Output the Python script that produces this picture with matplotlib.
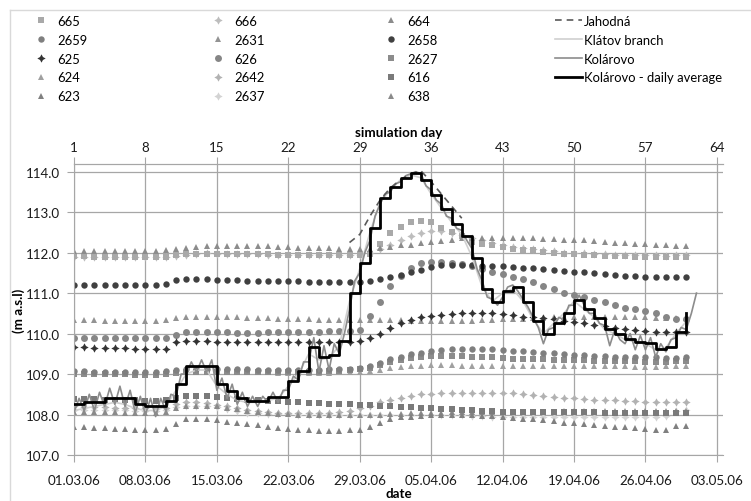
import numpy as np
import matplotlib
matplotlib.use('Agg')
import matplotlib.pyplot as plt
from matplotlib.lines import Line2D

plt.rcParams['font.family'] = ['Lato', 'DejaVu Sans']

## data: one value per day, day index 0 = 01.03.06 (simulation day 1)
s665 = [111.92,111.91,111.9,111.9,111.9,111.9,111.9,111.9,111.89,111.88, 111.93,111.96,111.97,111.97,111.97,111.97,111.97,111.97,111.97,111.96,
        111.95,111.94,111.93,111.93,111.93,111.93,111.93,111.93,111.94,111.96, 112.21,112.48,112.63,112.75,112.78,112.75,112.62,112.52,112.42,112.27,
        112.22,112.18,112.13,112.09,112.07,112.07,112.02,111.99,111.97,111.96, 111.95,111.94,111.92,111.92,111.91,111.9,111.9,111.88,111.88,111.9, 111.9]
s666 = [111.9,111.9,111.89,111.89,111.9,111.9,111.89,111.89,111.9,111.88, 111.91,111.95,111.97,111.98,111.97,111.96,111.96,111.96,111.96,111.95,
        111.95,111.94,111.94,111.93,111.93,111.93,111.93,111.93,111.94,111.98, 112.1,112.2,112.31,112.4,112.48,112.53,112.53,112.48,112.44,112.37,
        112.3,112.25,112.2,112.15,112.12,112.1,112.06,112.03,112.0,111.99, 111.98,111.97,111.96,111.95,111.94,111.94,111.93,111.93,111.92,111.93, 111.93]
s664 = [112.05,112.05,112.04,112.04,112.05,112.05,112.05,112.05,112.05,112.07, 112.1,112.12,112.14,112.16,112.17,112.17,112.17,112.17,112.16,112.16,
        112.15,112.13,112.12,112.12,112.11,112.11,112.1,112.1,112.1,112.1, 112.12,112.15,112.18,112.2,112.23,112.26,112.29,112.32,112.35,112.37,
        112.37,112.37,112.37,112.37,112.36,112.35,112.33,112.33,112.32,112.31, 112.3,112.28,112.27,112.25,112.24,112.22,112.21,112.2,112.18,112.17, 112.16]
s2658 = [111.2,111.2,111.19,111.19,111.19,111.19,111.19,111.19,111.19,111.22, 111.33,111.36,111.36,111.36,111.33,111.32,111.32,111.31,111.31,111.31,
         111.3,111.29,111.29,111.28,111.28,111.27,111.27,111.27,111.28,111.31, 111.34,111.39,111.45,111.51,111.58,111.64,111.69,111.69,111.69,111.69,
         111.68,111.68,111.67,111.65,111.63,111.61,111.59,111.58,111.54,111.53, 111.51,111.49,111.47,111.45,111.43,111.43,111.41,111.39,111.39,111.39, 111.39]
s626 = [109.89,109.88,109.88,109.88,109.88,109.88,109.88,109.88,109.89,109.9, 109.97,110.03,110.05,110.04,110.03,110.03,110.02,110.02,110.02,110.03,
        110.03,110.04,110.04,110.04,110.05,110.06,110.06,110.07,110.1,110.44, 110.78,111.17,111.43,111.62,111.74,111.77,111.77,111.75,111.73,111.68,
        111.6,111.52,111.46,111.41,111.35,111.27,111.18,111.09,111.0,110.95, 110.9,110.84,110.77,110.7,110.64,110.6,110.55,110.5,110.42,110.37, 110.36]
s2631 = [110.33,110.33,110.33,110.32,110.32,110.32,110.32,110.31,110.31,110.34, 110.38,110.4,110.41,110.41,110.4,110.4,110.4,110.39,110.39,110.38,
         110.37,110.36,110.35,110.35,110.34,110.34,110.34,110.34,110.33,110.33, 110.33,110.33,110.33,110.32,110.31,110.31,110.31,110.31,110.31,110.32,
         110.33,110.34,110.35,110.36,110.37,110.38,110.39,110.4,110.4,110.4, 110.41,110.41,110.41,110.41,110.4,110.4,110.4,110.39,110.38,110.38, 110.38]
s625 = [109.66,109.66,109.65,109.65,109.64,109.64,109.63,109.61,109.62,109.63, 109.78,109.81,109.82,109.81,109.8,109.8,109.8,109.79,109.79,109.79,
        109.79,109.79,109.78,109.78,109.78,109.78,109.78,109.78,109.82,109.9, 109.99,110.13,110.26,110.33,110.4,110.44,110.46,110.48,110.5,110.5,
        110.5,110.5,110.48,110.45,110.42,110.4,110.38,110.35,110.32,110.28, 110.25,110.22,110.19,110.15,110.12,110.08,110.06,110.04,110.04,110.03, 110.03]
s2659 = [109.07,109.07,109.06,109.06,109.06,109.06,109.06,109.05,109.05,109.07, 109.1,109.12,109.13,109.13,109.12,109.12,109.12,109.12,109.11,109.11,
         109.11,109.11,109.11,109.11,109.11,109.12,109.12,109.13,109.15,109.2, 109.28,109.36,109.43,109.49,109.53,109.57,109.6,109.61,109.61,109.61,
         109.61,109.61,109.59,109.57,109.56,109.55,109.53,109.52,109.5,109.48, 109.46,109.45,109.44,109.43,109.42,109.42,109.41,109.41,109.4,109.4, 109.41]
s2627 = [109.0,109.0,108.99,108.99,108.99,108.99,108.98,108.98,108.98,109.0, 109.03,109.05,109.06,109.06,109.05,109.05,109.05,109.05,109.05,109.05,
         109.05,109.05,109.05,109.06,109.06,109.07,109.08,109.1,109.13,109.16, 109.22,109.29,109.35,109.4,109.42,109.44,109.45,109.45,109.44,109.43,
         109.42,109.41,109.4,109.38,109.37,109.37,109.36,109.35,109.35,109.34, 109.34,109.33,109.33,109.32,109.32,109.32,109.31,109.31,109.31,109.33, 109.33]
s624 = [109.03,109.03,109.02,109.02,109.02,109.02,109.02,109.01,109.01,109.02, 109.04,109.05,109.05,109.05,109.05,109.04,109.04,109.04,109.04,109.04,
        109.03,109.03,109.03,109.03,109.03,109.03,109.04,109.04,109.05,109.07, 109.1,109.15,109.18,109.2,109.21,109.22,109.22,109.22,109.21,109.21,
        109.21,109.2,109.2,109.2,109.2,109.2,109.2,109.19,109.19,109.19, 109.19,109.19,109.19,109.19,109.19,109.18,109.18,109.18,109.19,109.2, 109.2]
s616 = [108.38,108.38,108.38,108.37,108.37,108.36,108.35,108.33,108.33,108.35, 108.42,108.46,108.46,108.45,108.43,108.41,108.39,108.37,108.35,108.34,
        108.33,108.31,108.3,108.29,108.28,108.27,108.26,108.25,108.24,108.23, 108.21,108.2,108.19,108.18,108.17,108.16,108.14,108.13,108.11,108.1,
        108.09,108.08,108.07,108.07,108.06,108.06,108.06,108.06,108.06,108.06, 108.06,108.06,108.05,108.05,108.05,108.05,108.05,108.04,108.04,108.05, 108.05]
s2642 = [108.2,108.19,108.18,108.18,108.17,108.17,108.16,108.15,108.15,108.17, 108.25,108.3,108.3,108.28,108.24,108.2,108.16,108.12,108.09,108.06,
         108.05,108.05,108.05,108.05,108.05,108.05,108.06,108.08,108.15,108.22, 108.3,108.37,108.42,108.46,108.5,108.51,108.53,108.54,108.54,108.54,
         108.54,108.53,108.52,108.52,108.5,108.48,108.46,108.44,108.42,108.4, 108.39,108.37,108.36,108.35,108.34,108.33,108.32,108.31,108.3,108.3, 108.3]
s2637 = [108.12,108.12,108.11,108.11,108.1,108.1,108.09,108.08,108.08,108.1, 108.18,108.22,108.22,108.21,108.18,108.13,108.09,108.05,108.03,108.02,
         108.01,108.01,108.0,108.0,108.0,108.0,108.0,108.0,108.0,108.0, 108.0,108.0,108.0,108.0,108.0,108.0,107.99,107.99,107.98,107.97,
         107.96,107.95,107.95,107.94,107.94,107.93,107.93,107.93,107.93,107.93, 107.93,107.93,107.93,107.93,107.93,107.93,107.93,107.94,107.96,108.08, 108.1]
s638 = [108.07,108.07,108.06,108.06,108.06,108.05,108.05,108.05,108.05,108.07, 108.15,108.2,108.21,108.21,108.2,108.17,108.13,108.09,108.06,108.04,
        108.02,108.01,108.0,108.0,108.0,107.99,107.99,107.99,107.99,108.0, 108.0,108.01,108.02,108.03,108.04,108.05,108.05,108.06,108.06,108.06,
        108.06,108.06,108.06,108.06,108.06,108.06,108.07,108.07,108.08,108.08, 108.08,108.08,108.08,108.08,108.08,108.08,108.08,108.08,108.08,108.09, 108.09]
s623 = [107.69,107.68,107.67,107.66,107.65,107.64,107.63,107.62,107.62,107.65, 107.77,107.88,107.9,107.9,107.86,107.82,107.79,107.76,107.73,107.7,
        107.67,107.64,107.62,107.61,107.6,107.6,107.6,107.61,107.63,107.7, 107.8,107.88,107.93,107.95,107.97,107.98,107.98,107.98,107.98,107.98,
        107.97,107.96,107.94,107.92,107.9,107.88,107.86,107.83,107.8,107.78, 107.76,107.74,107.72,107.7,107.68,107.66,107.64,107.63,107.62,107.72, 107.72]

# Kolarovo - daily average (last value only shows as the closing riser)
kol_avg = [108.25,108.3,108.3,108.42,108.42,108.42,108.27,108.21,108.21,108.34, 108.75,109.2,109.2,109.2,108.75,108.58,108.4,108.33,108.33,108.43,
           108.43,108.83,109.08,109.66,109.43,109.48,109.82,111.0,111.74,112.62, 113.34,113.61,113.85,113.96,113.8,113.43,113.07,112.71,112.42,111.87,
           111.1,110.78,111.06,111.14,110.78,110.31,109.98,110.27,110.52,110.83, 110.6,110.38,110.11,109.99,109.86,109.78,109.76,109.61,109.67,110.05, 110.5]

# Kolarovo, two readings per day
kol = [108.05,108.4, 108.1,108.5, 108.1,108.55, 108.2,108.65, 108.25,108.7, 108.2,108.6, 108.05,108.45, 108.0,108.4, 107.95,108.4, 108.1,108.5,
       108.45,109.0, 109.0,109.3, 109.05,109.35, 109.05,109.35, 108.6,108.9, 108.4,108.75, 108.25,108.55, 108.2,108.45, 108.2,108.45, 108.3,108.55,
       108.3,108.6, 108.6,108.95, 108.85,109.3, 109.3,109.9, 109.05,109.7, 109.1,109.75, 109.5,110.0, 110.6,111.3, 111.5,112.0, 112.3,112.9,
       113.2,113.45, 113.5,113.7, 113.75,113.9, 113.95,114.0, 113.95,113.65, 113.55,113.3, 113.2,112.9, 112.85,112.6, 112.55,112.3, 112.1,111.6,
       111.3,110.9, 110.85,110.7, 110.9,111.15, 111.2,111.05, 110.85,110.65, 110.4,110.15, 109.75,110.1, 110.15,110.4, 110.35,110.7, 110.7,110.95,
       110.7,110.5, 110.5,110.25, 110.2,109.7, 110.1,109.85, 109.75,110.0, 109.6,109.95, 109.6,109.9, 109.42,109.75, 109.55,109.85, 109.9,110.15,
       110.1,110.5, 111.0]

# Klatov branch (daily)
klatov = [108.1,108.15,108.2,108.25,108.3,108.25,108.15,108.1,108.1,108.2, 108.6,109.0,109.1,109.1,108.7,108.5,108.35,108.3,108.3,108.35,
          108.4,108.7,109.0,109.5,109.35,109.4,109.7,110.8,111.6,112.5, 113.25,113.55,113.8,113.92,113.85,113.45,113.1,112.75,112.45,111.9,
          111.15,110.8,111.0,111.1,110.8,110.35,110.0,110.25,110.5,110.8, 110.6,110.4,110.1,110.0,109.85,109.8,109.75,109.6,109.65,110.0, 110.3]

# Jahodna, days 27..38
jah_start = 27
jahodna = [112.25,112.45,112.9,113.3,113.6,113.8,113.95,114.02,113.75,113.45,113.15,112.85]

dates = ['01.03.06','08.03.06','15.03.06','22.03.06','29.03.06','05.04.06','12.04.06','19.04.06','26.04.06','03.05.06']

## styles: marker, colour, size
sty = {
    '665': ('s', '#a9a9a9', 4.0),
    '2659': ('o', '#7f7f7f', 4.6),
    '625': ((4, 1, 0), '#333333', 6.0),
    '624': ('^', '#a0a0a0', 5.0),
    '623': ('^', '#808080', 5.0),
    '666': ((4, 1, 0), '#bdbdbd', 6.0),
    '2631': ('^', '#939393', 5.0),
    '626': ('o', '#868686', 5.0),
    '2642': ((4, 1, 0), '#b2b2b2', 6.0),
    '2637': ((4, 1, 0), '#d3d3d3', 6.0),
    '664': ('^', '#8c8c8c', 4.0),
    '2658': ('o', '#404040', 4.6),
    '2627': ('s', '#8c8c8c', 3.8),
    '616': ('s', '#7a7a7a', 4.6),
    '638': ('^', '#8a8a8a', 4.8),
}
series = {'665': s665, '2659': s2659, '625': s625, '624': s624, '623': s623,
          '666': s666, '2631': s2631, '626': s626, '2642': s2642, '2637': s2637,
          '664': s664, '2658': s2658, '2627': s2627, '616': s616, '638': s638}

fig = plt.figure(figsize=(7.51, 5.02), dpi=100)
ax = fig.add_axes([74/751, 46/502, 649/751, 291/502])

days = np.arange(61)
gcol = '#a6a6a6'
fs = 9.6

for name in ['2637', '2642', '666', '665', '664', '2631', '638', '623', '616', '624', '2627', '2659', '626', '625', '2658']:
    m, c, s = sty[name]
    ax.plot(days, series[name], linestyle='None', marker=m, color=c, markersize=s, markeredgewidth=0, zorder=2)

kol_t = np.arange(len(kol)) * 0.5
ax.plot(days, klatov, color='#d0d0d0', lw=1.2, zorder=3)
ax.plot(kol_t, kol, color='#8c8c8c', lw=1.2, zorder=3)
ax.plot(np.arange(jah_start, jah_start + len(jahodna)), jahodna, color='#595959', lw=1.2, ls=(0, (4, 3)), zorder=3)
ax.plot(days, kol_avg, color='black', lw=2.0, drawstyle='steps-post', zorder=4)

ax.set_xlim(0, 63.6)
ax.set_ylim(107, 114.19)
ax.set_xticks(np.arange(0, 64, 7))
ax.set_xticklabels(dates)
ax.set_yticks(np.arange(107, 114.5, 1))
ax.set_yticklabels(['%.1f' % v for v in np.arange(107, 114.5, 1)])
ax.grid(True, color=gcol, lw=0.9)
ax.set_axisbelow(True)
for sp in ['left', 'bottom', 'top']:
    ax.spines[sp].set_color(gcol)
ax.spines['right'].set_visible(False)
ax.tick_params(direction='out', length=5, color=gcol, labelsize=fs, labelcolor='#1a1a1a')
ax.tick_params(axis='x', pad=8.5)
ax.tick_params(axis='y', pad=5)

# top axis: simulation day (day index + 1)
top = ax.twiny()
top.set_xlim(1, 64.6)
top.set_xticks(np.arange(1, 65, 7))
top.tick_params(direction='out', length=5, color=gcol, labelsize=fs, labelcolor='#1a1a1a', pad=3)
for sp in ['left', 'bottom', 'right']:
    top.spines[sp].set_visible(False)
top.spines['top'].set_color(gcol)
top.set_xlabel('simulation day', fontweight='bold', fontsize=fs)
top.xaxis.set_label_coords(0.5, 1 + (165 - 137) / 291)

ax.set_xlabel('date', fontweight='bold', fontsize=fs)
ax.xaxis.set_label_coords(0.5, -(488 - 456) / 291)
ax.set_ylabel('(m a.s.l)', fontweight='bold', fontsize=fs)
ax.yaxis.set_label_coords(-(74 - 25) / 649, 0.5)

## legend, four columns placed by hand
def mk(name):
    m, c, s = sty[name]
    return Line2D([], [], linestyle='None', marker=m, color=c, markersize=s, markeredgewidth=0)

cols = [['665', '2659', '625', '624', '623'],
        ['666', '2631', '626', '2642', '2637'],
        ['664', '2658', '2627', '616', '638']]
xs = [34, 211, 384]
for names, x0 in zip(cols, xs):
    fig.legend([mk(n) for n in names], names, loc='upper left', bbox_to_anchor=(x0/751, 1 - 16/502),
               frameon=False, borderpad=0, borderaxespad=0, handlelength=1.0, handletextpad=0.78,
               labelspacing=0.52, fontsize=9.4)

lh = [Line2D([], [], color='#595959', lw=1.2, ls=(0, (4, 3))),
      Line2D([], [], color='#d0d0d0', lw=1.2),
      Line2D([], [], color='#8c8c8c', lw=1.2),
      Line2D([], [], color='black', lw=2.0)]
fig.legend(lh, ['Jahodná', 'Klátov branch', 'Kolárovo', 'Kolárovo - daily average'], loc='upper left',
           bbox_to_anchor=(555/751, 1 - 16/502), frameon=False, borderpad=0, borderaxespad=0,
           handlelength=2.1, handletextpad=0.1, labelspacing=0.52, fontsize=9.4)

# chart border (cut off at right and bottom)
fig.add_artist(Line2D([9.5/751, 1], [1 - 11/502, 1 - 11/502], transform=fig.transFigure, color='#d9d9d9', lw=1))
fig.add_artist(Line2D([9.5/751, 9.5/751], [0, 1 - 11/502], transform=fig.transFigure, color='#d9d9d9', lw=1))

fig.savefig('out.png', dpi=100)
